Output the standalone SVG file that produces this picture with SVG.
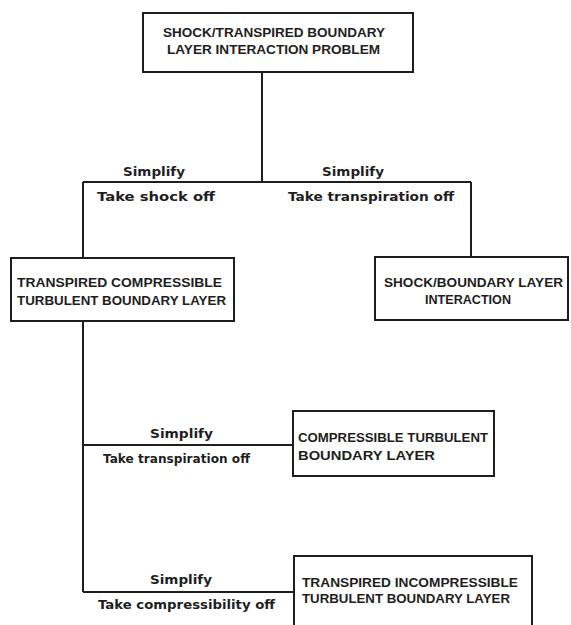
<svg xmlns="http://www.w3.org/2000/svg" width="571" height="625" viewBox="0 0 571 625">
<style>
.box{fill:#fff;stroke:#1e1e1e;stroke-width:2}
.con{fill:none;stroke:#1e1e1e;stroke-width:2}
.nt{font-family:"Liberation Sans",Arial,sans-serif;font-weight:bold;font-size:12px;fill:#1e1e1e}
.lb{font-family:"DejaVu Sans","Liberation Sans",sans-serif;font-weight:bold;font-size:12px;fill:#1e1e1e}
</style>
<rect width="571" height="625" fill="#fff"/>
<g id="connectors">
<path class="con" d="M262 72V182M83 182H471M83 182V258M471 182V257M83 321V592M83 445H293M83 592H294"/>
</g>
<g id="labels">
<text class="lb" x="123" y="176" textLength="62" lengthAdjust="spacingAndGlyphs">Simplify</text>
<text class="lb" x="97" y="201" textLength="118" lengthAdjust="spacingAndGlyphs">Take shock off</text>
<text class="lb" x="322" y="176" textLength="62" lengthAdjust="spacingAndGlyphs">Simplify</text>
<text class="lb" x="288" y="201" textLength="166" lengthAdjust="spacingAndGlyphs">Take transpiration off</text>
<text class="lb" x="150" y="438" textLength="63" lengthAdjust="spacingAndGlyphs">Simplify</text>
<text class="lb" x="103" y="463" textLength="147" lengthAdjust="spacingAndGlyphs">Take transpiration off</text>
<text class="lb" x="150" y="584" textLength="62" lengthAdjust="spacingAndGlyphs">Simplify</text>
<text class="lb" x="98" y="609" textLength="177" lengthAdjust="spacingAndGlyphs">Take compressibility off</text>
</g>
<g id="n1">
<rect class="box" x="143" y="13" width="270" height="59"/>
<text class="nt" x="163" y="37" textLength="222" lengthAdjust="spacingAndGlyphs">SHOCK/TRANSPIRED BOUNDARY</text>
<text class="nt" x="167" y="54" textLength="213" lengthAdjust="spacingAndGlyphs">LAYER INTERACTION PROBLEM</text>
</g>
<g id="n2">
<rect class="box" x="11" y="258" width="223" height="63"/>
<text class="nt" x="17" y="287" textLength="205" lengthAdjust="spacingAndGlyphs">TRANSPIRED COMPRESSIBLE</text>
<text class="nt" x="17" y="305" textLength="209" lengthAdjust="spacingAndGlyphs">TURBULENT BOUNDARY LAYER</text>
</g>
<g id="n3">
<rect class="box" x="375" y="257" width="193" height="63"/>
<text class="nt" x="384" y="287" textLength="179" lengthAdjust="spacingAndGlyphs">SHOCK/BOUNDARY LAYER</text>
<text class="nt" x="425" y="304" textLength="86" lengthAdjust="spacingAndGlyphs">INTERACTION</text>
</g>
<g id="n4">
<rect class="box" x="293" y="411" width="201" height="65"/>
<text class="nt" x="298" y="442" textLength="190" lengthAdjust="spacingAndGlyphs">COMPRESSIBLE TURBULENT</text>
<text class="nt" x="298" y="460" textLength="137" lengthAdjust="spacingAndGlyphs">BOUNDARY LAYER</text>
</g>
<g id="n5">
<rect class="box" x="294" y="556" width="238" height="75"/>
<text class="nt" x="302" y="587" textLength="216" lengthAdjust="spacingAndGlyphs">TRANSPIRED INCOMPRESSIBLE</text>
<text class="nt" x="302" y="603" textLength="208" lengthAdjust="spacingAndGlyphs">TURBULENT BOUNDARY LAYER</text>
</g>
</svg>
